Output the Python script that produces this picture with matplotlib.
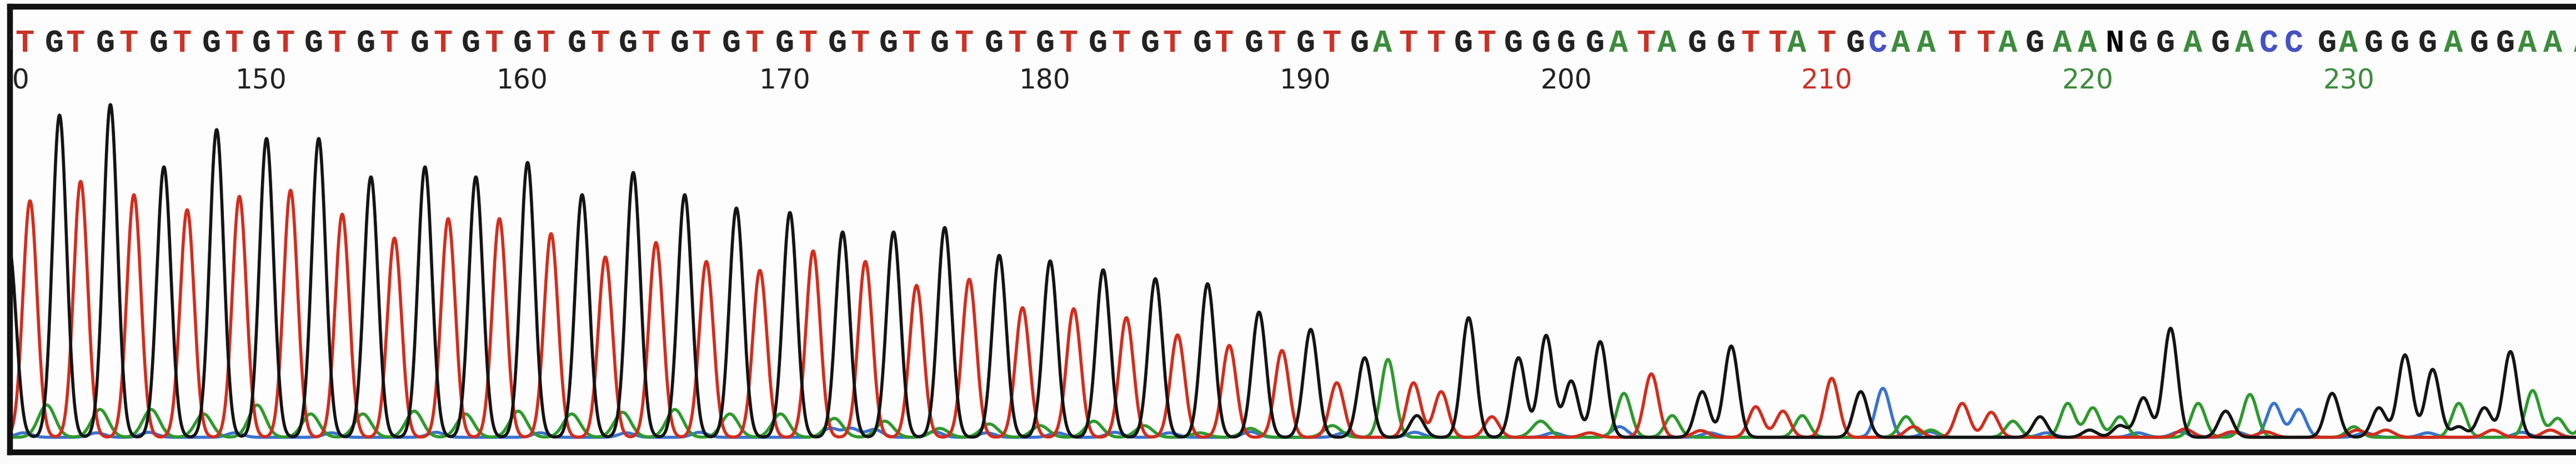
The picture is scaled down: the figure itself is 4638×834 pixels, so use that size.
import numpy as np
import matplotlib
matplotlib.use("Agg")
import matplotlib.pyplot as plt

# called bases, positions 140..239
start = 140
seq = "GT" * 26 + "G" + "ATTGTGGGGATAGGTTATGCAATTAGAANGGAGACCGAGGGAGGAAA"

# primary peak centres (in base units)
peak_pos = [
    140.35, 141.15, 142.28, 143.09, 144.23, 145.13, 146.28, 147.17, 148.30, 149.17,
    150.21, 151.13, 152.21, 153.11, 154.21, 155.11, 156.28, 157.17, 158.23, 159.13,
    160.21, 161.11, 162.30, 163.19, 164.26, 165.13, 166.23, 167.06, 168.21, 169.11,
    170.26, 171.15, 172.28, 173.15, 174.23, 175.11, 176.19, 177.13, 178.28, 179.17,
    180.23, 181.13, 182.26, 183.15, 184.26, 185.11, 186.26, 187.09, 188.23, 189.11,
    190.21, 191.21, 192.28, 193.17, 194.15, 195.21, 196.26, 197.15, 198.17, 199.23,
    200.19, 201.30, 202.21, 203.26, 204.06, 205.21, 206.32, 207.26, 208.30, 209.04,
    210.17, 211.28, 212.13, 213.02, 213.98, 215.17, 216.28, 217.11, 218.15, 219.21,
    220.17, 221.21, 222.11, 223.15, 224.21, 225.26, 226.19, 227.11, 228.06, 229.34,
    230.17, 231.13, 232.13, 233.19, 234.19, 235.17, 236.17, 237.02, 237.98, 239.15,
]

# primary peak heights (signal units)
peak_h = [
    340, 425, 579, 460, 598, 436, 486, 409, 553, 433,
    537, 444, 537, 401, 468, 358, 486, 393, 468, 393,
    494, 366, 436, 324, 476, 350, 436, 316, 412, 300,
    404, 335, 369, 316, 369, 273, 377, 284, 327, 233,
    317, 231, 301, 215, 285, 184, 276, 165, 225, 156,
    194, 98, 143, 140, 98, 82, 215, 37, 143, 183,
    101, 172, 79, 114, 39, 82, 164, 55, 47, 39,
    106, 82, 88, 37, 13, 61, 45, 29, 37, 61,
    53, 37, 71, 196, 61, 47, 77, 61, 50, 79,
    19, 53, 148, 122, 61, 53, 154, 84, 34, 40,
]

# smaller secondary peaks per dye
green_minor_pos = [141.79, 143.83, 145.79, 147.80, 149.85, 151.90, 153.90, 155.87,
                   157.83, 159.85, 161.90, 163.85, 165.85, 167.96, 169.90, 171.96,
                   173.90, 176.00, 177.90, 179.85, 181.90, 183.83, 185.96, 187.90,
                   191.04, 199.02]
green_minor_h = [58, 50, 50, 42, 58, 42, 42, 47, 42, 47, 42, 45, 50, 42, 42, 34,
                 29, 16, 24, 21, 29, 21, 8, 16, 21, 29]
black_minor_pos = [194.28, 220.05, 221.21, 234.19]
black_minor_h = [39, 13, 21, 19]
red_minor_pos = [200.9, 205.15, 213.3, 223.7, 225.5, 226.8, 230.3, 231.4, 235.5, 237.7]
red_minor_h = [8, 12, 19, 15, 10, 10, 13, 13, 13, 13]
blue_minor_pos = [140.9, 143.7, 145.7, 149.0, 152.7, 156.7, 160.7, 164.0, 166.8,
                  171.8, 172.6, 173.5, 175.8, 177.8, 180.5, 182.7, 184.8, 187.9,
                  191.5, 194.2, 199.5, 202.04, 205.5, 213.9, 218.4, 221.9, 223.5,
                  225.7, 230.6, 233.0, 236.6]
blue_minor_h = [8, 8, 9, 8, 8, 9, 8, 8, 9, 16, 16, 14, 10, 8, 8, 9, 8, 10,
                8, 9, 8, 19, 8, 10, 8, 8, 10, 9, 8, 8, 9]

dye = {"G": "G", "T": "T", "A": "A", "C": "C", "N": "A"}
trace_col = {"G": "#141414", "T": "#d42c1c", "A": "#2e9a2e", "C": "#3a72d0"}
text_col = {"G": "#222222", "T": "#cc3226", "A": "#3c8c3c", "C": "#4452c4", "N": "#000000"}

W, H = 4638, 834
PX = 47.0            # pixels per base
base_y = H - 786     # trace baseline

fig = plt.figure(figsize=(W / 100, H / 100), dpi=100)
fig.patch.set_facecolor("#fbfbfb")
ax = fig.add_axes([18 / W, (H - 813) / H, (W - 18) / W, (813 - 12) / H])
ax.set_facecolor("#fdfdfd")
ax.set_xlim(start + 18 / PX, start + W / PX)
ax.set_ylim(H - 813, H - 12)
ax.set_xticks([])
ax.set_yticks([])
for s in ["left", "top", "bottom"]:
    ax.spines[s].set_linewidth(7.5)
    ax.spines[s].set_color("#111111")
ax.spines["right"].set_visible(False)

x = np.linspace(139, 241, 30000)


def peaks(pos, h, sig):
    y = np.zeros_like(x)
    for p, a in zip(pos, h):
        y += a * np.exp(-0.5 * ((x - p) / sig) ** 2)
    return y


channels = {}
for ch in "GTAC":
    pp = [p for p, b in zip(peak_pos, seq) if dye[b] == ch]
    hh = [a for a, b in zip(peak_h, seq) if dye[b] == ch]
    channels[ch] = peaks(pp, hh, 0.27)
channels["A"] += peaks(green_minor_pos, green_minor_h, 0.32)
channels["G"] += peaks(black_minor_pos, black_minor_h, 0.27)
channels["T"] += peaks(red_minor_pos, red_minor_h, 0.3)
channels["C"] += peaks(blue_minor_pos, blue_minor_h, 0.3)

for ch in ["C", "A", "T", "G"]:
    ax.plot(x, base_y + channels[ch], color=trace_col[ch], lw=4.0,
            solid_joinstyle="round")

# base calls and position numbers
for i, (b, p) in enumerate(zip(seq, peak_pos)):
    tx = p - 0.2
    ax.text(tx, H - 93, b, ha="center", va="baseline", fontsize=41,
            family="Liberation Mono", weight="bold",
            color=text_col[b], clip_on=True)
    n = start + i
    if n % 10 == 0:
        ax.text(tx, H - 159, str(n), ha="center", va="baseline", fontsize=35,
                family="DejaVu Sans", color=text_col[b], clip_on=True)

fig.savefig("out.png", dpi=100, facecolor=fig.get_facecolor())
